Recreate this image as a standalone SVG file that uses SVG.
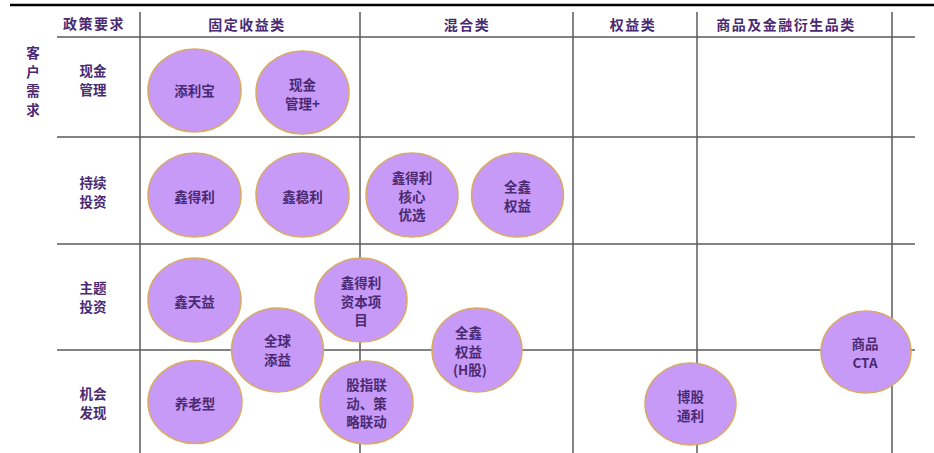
<svg xmlns="http://www.w3.org/2000/svg" width="934" height="453" viewBox="0 0 934 453">
<style>
.g{stroke:#5a5a5a;stroke-width:1.5;fill:none}
.c{fill:#c89af8;stroke:#d8aa62;stroke-width:1.5}
text{font-family:"Noto Sans CJK SC","Liberation Serif",serif;font-size:13.5px;font-weight:700;fill:#4a2a72;text-anchor:middle;dominant-baseline:central}
.h{letter-spacing:1.5px;font-size:14px}
.s{text-anchor:start}
</style>
<rect width="934" height="453" fill="#fff"/>
<g id="connectors">
<line x1="10" y1="5" x2="934" y2="5" stroke="#000" stroke-width="2.5"/>
<line class="g" x1="140" y1="12" x2="140" y2="453"/>
<line class="g" x1="360" y1="12" x2="360" y2="453"/>
<line class="g" x1="573" y1="12" x2="573" y2="453"/>
<line class="g" x1="697" y1="12" x2="697" y2="453"/>
<line class="g" x1="892" y1="12" x2="892" y2="453"/>
<line class="g" x1="57" y1="37" x2="915" y2="37"/>
<line class="g" x1="57" y1="137" x2="915" y2="137"/>
<line class="g" x1="57" y1="244" x2="915" y2="244"/>
<line class="g" x1="57" y1="350" x2="915" y2="350"/>
</g>
<g id="headers">
<text class="h" x="94" y="23">政策要求</text>
<text class="h" x="247" y="24">固定收益类</text>
<text class="h" x="467" y="24">混合类</text>
<text class="h" x="633" y="24">权益类</text>
<text class="h" x="786" y="24">商品及金融衍生品类</text>
<text x="33" y="52">客</text>
<text x="33" y="71">户</text>
<text x="33" y="90">需</text>
<text x="33" y="109">求</text>
<text x="93" y="70">现金</text><text x="93" y="89">管理</text>
<text x="93" y="182">持续</text><text x="93" y="201">投资</text>
<text x="93" y="287">主题</text><text x="93" y="306">投资</text>
<text x="93" y="393">机会</text><text x="93" y="412">发现</text>
</g>
<g id="n1"><ellipse class="c" cx="194.5" cy="90.5" rx="46.5" ry="41.5"/><text x="194.5" y="90">添利宝</text></g>
<g id="n2"><ellipse class="c" cx="302.5" cy="92.5" rx="46.5" ry="41.5"/><text x="302.5" y="84">现金</text><text x="302.5" y="103">管理+</text></g>
<g id="n3"><ellipse class="c" cx="194.5" cy="195" rx="46.5" ry="42"/><text x="194.5" y="196">鑫得利</text></g>
<g id="n4"><ellipse class="c" cx="302.5" cy="195" rx="46.5" ry="42"/><text x="302.5" y="196">鑫稳利</text></g>
<g id="n5"><ellipse class="c" cx="412" cy="195" rx="46" ry="42"/><text x="412" y="177">鑫得利</text><text x="412" y="195.5">核心</text><text x="412" y="214">优选</text></g>
<g id="n6"><ellipse class="c" cx="517.5" cy="195" rx="46" ry="42"/><text x="517.5" y="186">全鑫</text><text x="517.5" y="205">权益</text></g>
<g id="n7"><ellipse class="c" cx="194.5" cy="300" rx="46.5" ry="42"/><text x="194.5" y="301">鑫天益</text></g>
<g id="n8"><ellipse class="c" cx="277.5" cy="350" rx="46" ry="42"/><text x="277.5" y="340">全球</text><text x="277.5" y="359">添益</text></g>
<g id="n9"><ellipse class="c" cx="361" cy="300" rx="46" ry="42"/><text x="361" y="282">鑫得利</text><text x="361" y="300.5">资本项</text><text x="361" y="319">目</text></g>
<g id="n10"><ellipse class="c" cx="195" cy="402" rx="47" ry="41.5"/><text x="195" y="403">养老型</text></g>
<g id="n11"><ellipse class="c" cx="366.5" cy="402.5" rx="46.5" ry="41.5"/><text x="366.5" y="384">股指联</text><text x="366.5" y="402.5">动、策</text><text x="366.5" y="421">略联动</text></g>
<g id="n12"><ellipse class="c" cx="477" cy="350" rx="45" ry="42"/><text class="s" x="455" y="332">全鑫</text><text class="s" x="455" y="350.5">权益</text><text class="s" x="453" y="369">(H股)</text></g>
<g id="n13"><ellipse class="c" cx="690.5" cy="404" rx="45.5" ry="41"/><text x="690.5" y="396">博股</text><text x="690.5" y="415">通利</text></g>
<g id="n14"><ellipse class="c" cx="866" cy="352" rx="45" ry="41"/><text x="865" y="343">商品</text><text x="865" y="362">CTA</text></g>
</svg>
